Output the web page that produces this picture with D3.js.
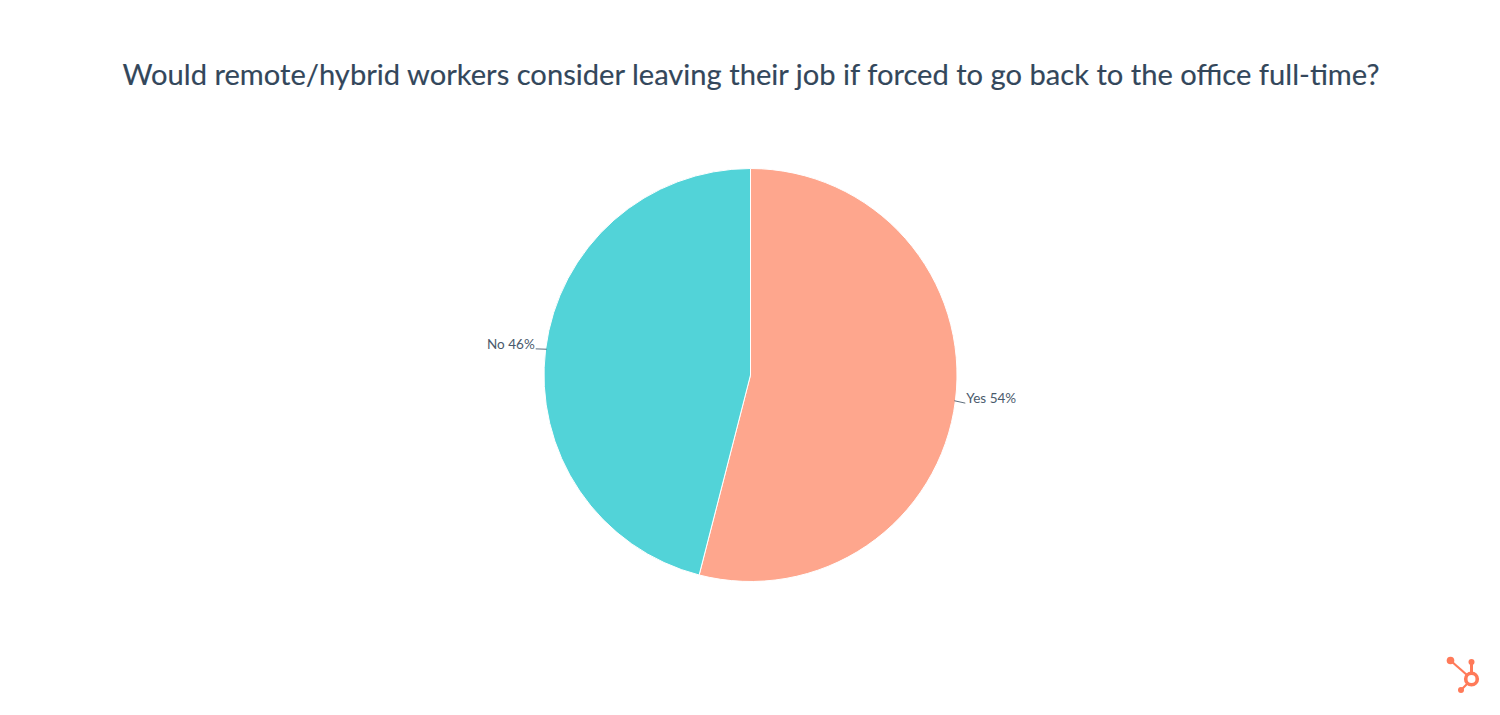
<!DOCTYPE html>
<html><head><meta charset="utf-8">
<script src="https://cdn.jsdelivr.net/npm/d3@7"></script>
<style>body{margin:0;background:#fff;}svg{display:block;}</style>
</head><body>
<script>
const categories = ["Yes", "No"];
const values = [54, 46];
const colors = ["#FEA68D", "#52D3D8"];
const title = "Would remote/hybrid workers consider leaving their job if forced to go back to the office full-time?";

const W = 1500, H = 715;
const svg = d3.select("body").append("svg").attr("width", W).attr("height", H);
svg.append("rect").attr("width", W).attr("height", H).attr("fill", "#fff");

svg.append("text").attr("x", 751).attr("y", 85).attr("text-anchor", "middle")
  .attr("font-family", "Lato, 'Open Sans', sans-serif").attr("font-size", 28)
  .attr("font-weight", 400)
  .attr("fill", "#33475B").attr("stroke", "#33475B").attr("stroke-width", 0.15)
  .attr("textLength", 1257).attr("lengthAdjust", "spacingAndGlyphs")
  .text(title);

const cx = 750.5, cy = 375, R = 206.5;
const data = categories.map((c, i) => ({cat: c, value: values[i], color: colors[i]}));
const pie = d3.pie().value(d => d.value).sort(null);
const arc = d3.arc().innerRadius(0).outerRadius(R);
const g = svg.append("g").attr("transform", `translate(${cx},${cy})`);
const arcs = pie(data);
g.selectAll("path").data(arcs).enter().append("path")
  .attr("d", arc).attr("fill", d => d.data.color)
  .attr("stroke", "#fff").attr("stroke-width", 1);

arcs.forEach(a => {
  const mid = (a.startAngle + a.endAngle) / 2;
  const sx = Math.sin(mid), sy = -Math.cos(mid);
  const p0 = [sx * (R - 1), sy * (R - 1)];
  const p1 = [sx * (R + 10), sy * (R + 10) + 1];
  const right = sx > 0;
  g.append("path").attr("d", `M${p0[0]},${p0[1]}L${p1[0]},${p1[1]}`)
    .attr("stroke", "#33475B").attr("stroke-width", 0.8).attr("fill", "none");
  g.append("text").attr("x", p1[0] + (right ? 1 : -1)).attr("y", p1[1])
    .attr("text-anchor", right ? "start" : "end")
    .attr("font-family", "Lato, 'Open Sans', sans-serif").attr("font-size", 13.5)
    .attr("fill", "#4A5A6C")
    .text(`${a.data.cat} ${a.data.value}%`);
});

// HubSpot sprocket logo
const lg = svg.append("g").attr("fill", "#FF7A59").attr("stroke", "#FF7A59");
lg.append("line").attr("x1", 1471.5).attr("y1", 662).attr("x2", 1471.5).attr("y2", 674).attr("stroke-width", 3);
lg.append("line").attr("x1", 1451).attr("y1", 661).attr("x2", 1467).attr("y2", 675).attr("stroke-width", 2.2);
lg.append("line").attr("x1", 1461).attr("y1", 690).attr("x2", 1467).attr("y2", 684).attr("stroke-width", 2.2);
lg.append("circle").attr("cx", 1471.5).attr("cy", 679).attr("r", 5.8).attr("fill", "none").attr("stroke-width", 3.6);
lg.append("circle").attr("cx", 1471.5).attr("cy", 662).attr("r", 3).attr("stroke", "none");
lg.append("circle").attr("cx", 1450.5).attr("cy", 660.5).attr("r", 3.8).attr("stroke", "none");
lg.append("circle").attr("cx", 1461).attr("cy", 690).attr("r", 3).attr("stroke", "none");
</script>
</body></html>
